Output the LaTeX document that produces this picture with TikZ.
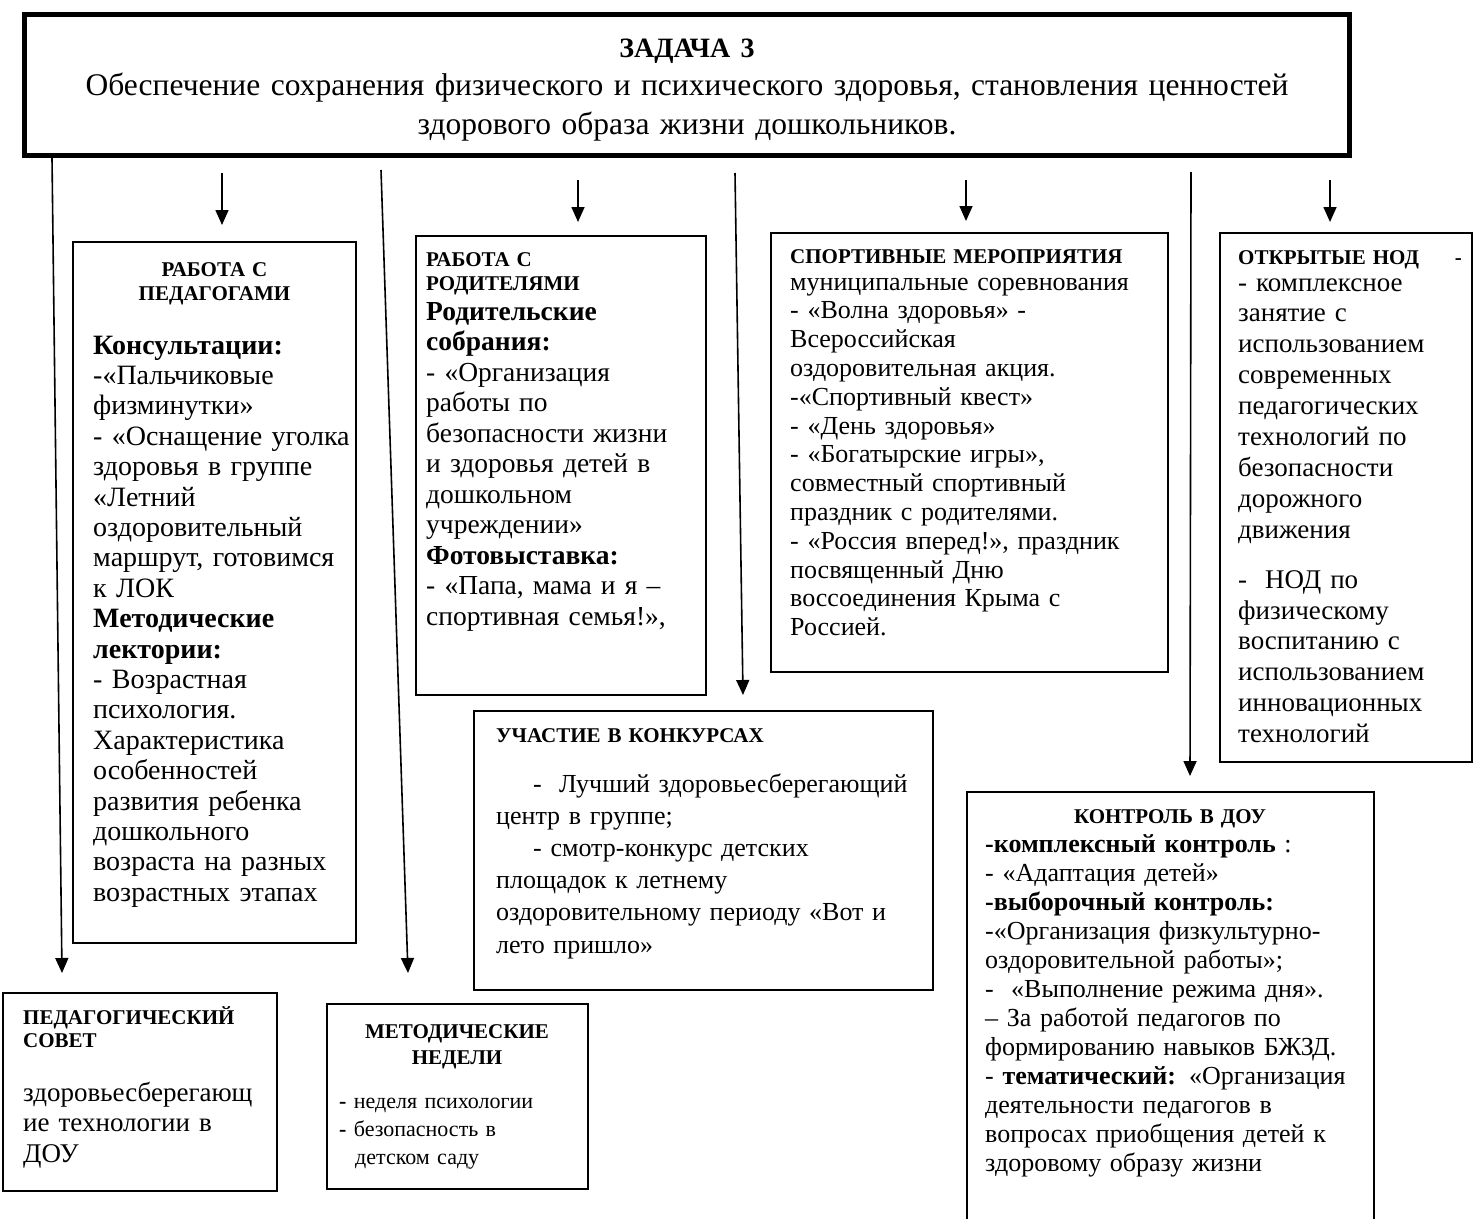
\documentclass[tikz,border=0pt]{standalone}
\usepackage{fontspec}
\setmainfont{Liberation Serif}
\usetikzlibrary{arrows.meta,calc}

\tikzset{
  frame/.style={draw, line width=1.8pt, anchor=north west, outer sep=0pt, inner sep=0pt},
  head/.style={font=\fontsize{21}{24}\selectfont\bfseries, inner sep=0pt, align=left, anchor=base west, text width=420pt},
  body/.style={font=\fontsize{26}{#1}\selectfont, inner sep=0pt, align=left, anchor=base west, text width=420pt},
  body/.default=30,
  link/.style={line width=1.6pt, -{Triangle[width=13pt,length=15pt]}},
}

\begin{document}
\begin{tikzpicture}[x=1pt,y=1pt]
\useasboundingbox (0,0) rectangle (1474,-1218);

\node[frame, line width=5pt, minimum width=1325pt, minimum height=141pt] (task) at (24.5,-14.5) {};
\node[font=\fontsize{31.5}{38.5}\selectfont, inner sep=0pt, align=center, text width=1300pt, anchor=base] (task-text) at (687,-57)
  {{\fontsize{28}{38.5}\selectfont\bfseries ЗАДАЧА 3}\\
   Обеспечение сохранения физического и психического здоровья, становления ценностей\\
   здорового образа жизни дошкольников.};

\node[frame, minimum width=283pt, minimum height=701pt] (pedagogi) at (73,-242) {};
\node[head, align=center, anchor=base, text width=280pt] (pedagogi-head) at (214.5,-276) {РАБОТА С\\ПЕДАГОГАМИ};
\node[body, font=\fontsize{28}{30.4}\selectfont] (pedagogi-body) at (93,-354)
  {\textbf{Консультации:}\\
   -«Пальчиковые\\
   физминутки»\\
   - «Оснащение уголка\\
   здоровья в группе\\
   «Летний\\
   оздоровительный\\
   маршрут, готовимся\\
   к ЛОК\\
   \textbf{Методические}\\
   \textbf{лектории:}\\
   - Возрастная\\
   психология.\\
   Характеристика\\
   особенностей\\
   развития ребенка\\
   дошкольного\\
   возраста на разных\\
   возрастных этапах};

\node[frame, minimum width=290pt, minimum height=459pt] (roditeli) at (416,-236) {};
\node[head] (roditeli-head) at (426,-266) {РАБОТА С\\РОДИТЕЛЯМИ};
\node[body, font=\fontsize{27.5}{30.5}\selectfont] (roditeli-body) at (426,-320)
  {\textbf{Родительские}\\
   \textbf{собрания:}\\
   - «Организация\\
   работы по\\
   безопасности жизни\\
   и здоровья детей в\\
   дошкольном\\
   учреждении»\\
   \textbf{Фотовыставка:}\\
   - «Папа, мама и я –\\
   спортивная семья!»,};

\node[frame, minimum width=397pt, minimum height=439pt] (sport) at (771,-233) {};
\node[head] (sport-head) at (790,-263) {СПОРТИВНЫЕ МЕРОПРИЯТИЯ};
\node[body=28.8] (sport-body) at (790,-290)
  {муниципальные соревнования\\
   - «Волна здоровья» -\\
   Всероссийская\\
   оздоровительная акция.\\
   -«Спортивный квест»\\
   - «День здоровья»\\
   - «Богатырские игры»,\\
   совместный спортивный\\
   праздник с родителями.\\
   - «Россия вперед!», праздник\\
   посвященный Дню\\
   воссоединения Крыма с\\
   Россией.};

\node[frame, minimum width=252pt, minimum height=529pt] (otkrytye) at (1220,-233) {};
\node[head] (otkrytye-head) at (1238,-264) {ОТКРЫТЫЕ НОД\hspace{36pt}-};
\node[body, font=\fontsize{27}{30.9}\selectfont] (otkrytye-body) at (1238,-291)
  {- комплексное\\
   занятие с\\
   использованием\\
   современных\\
   педагогических\\
   технологий по\\
   безопасности\\
   дорожного\\
   движения\\[19pt]
   -\ \ НОД по\\
   физическому\\
   воспитанию с\\
   использованием\\
   инновационных\\
   технологий};

\node[frame, minimum width=459pt, minimum height=279pt] (konkurs) at (474,-711) {};
\node[head] (konkurs-head) at (496,-742) {УЧАСТИЕ В КОНКУРСАХ};
\node[body=32.2] (konkurs-body) at (496,-792)
  {\hspace*{37pt}-\ \ Лучший здоровьесберегающий\\
   центр в группе;\\
   \hspace*{37pt}- смотр-конкурс детских\\
   площадок к летнему\\
   оздоровительному периоду «Вот и\\
   лето пришло»};

\node[frame, minimum width=407pt, minimum height=450pt] (kontrol) at (967,-792) {};
\node[head, align=center, anchor=base, text width=400pt] (kontrol-head) at (1170,-823) {КОНТРОЛЬ В ДОУ};
\node[body=29] (kontrol-body) at (985,-852)
  {\textbf{-комплексный контроль} :\\
   - «Адаптация детей»\\
   \textbf{-выборочный контроль:}\\
   -«Организация физкультурно-\\
   оздоровительной работы»;\\
   -\ \ «Выполнение режима дня».\\
   – За работой педагогов по\\
   формированию навыков БЖЗД.\\
   - \textbf{тематический:} «Организация\\
   деятельности педагогов в\\
   вопросах приобщения детей к\\
   здоровому образу жизни};

\node[frame, minimum width=274pt, minimum height=198pt] (sovet) at (3,-993) {};
\node[head, font=\fontsize{21}{23}\selectfont\bfseries] (sovet-head) at (23,-1024) {ПЕДАГОГИЧЕСКИЙ\\СОВЕТ};
\node[body, font=\fontsize{27}{30.5}\selectfont] (sovet-body) at (23,-1101)
  {здоровьесберегающ\\
   ие технологии в\\
   ДОУ};

\node[frame, minimum width=261pt, minimum height=185pt] (nedeli) at (327,-1004) {};
\node[head, font=\fontsize{21}{26}\selectfont\bfseries, align=center, anchor=base, text width=255pt] (nedeli-head) at (457,-1038) {МЕТОДИЧЕСКИЕ\\НЕДЕЛИ};
\node[body, font=\fontsize{22}{28}\selectfont] (nedeli-body) at (339,-1108)
  {\textbf{-} неделя психологии\\
   \textbf{-} безопасность в\\
   \hspace*{16pt}детском саду};

\draw[link] ($(task.south west)+(197.5,-17.5)$) -- ($(pedagogi.north west)+(149,17)$);
\draw[link] ($(task.south west)+(553.5,-24.5)$) -- ($(roditeli.north west)+(162,14)$);
\draw[link] ($(task.south west)+(941.5,-24.5)$) -- ($(sport.north west)+(195,12)$);
\draw[link] ($(task.south west)+(1305.5,-24.5)$) -- ($(otkrytye.north west)+(110,11)$);
\draw[link] ($(task.south west)+(27.5,-2.5)$) -- ($(sovet.north west)+(59,20)$);
\draw[link] ($(task.south west)+(356.5,-14.5)$) -- ($(nedeli.north west)+(81,31)$);
\draw[link] ($(task.south west)+(710.5,-17.5)$) -- ($(konkurs.north west)+(269,16)$);
\draw[link] ($(task.south west)+(1166.5,-16.5)$) -- ($(kontrol.north west)+(223,16)$);
\end{tikzpicture}
\end{document}
